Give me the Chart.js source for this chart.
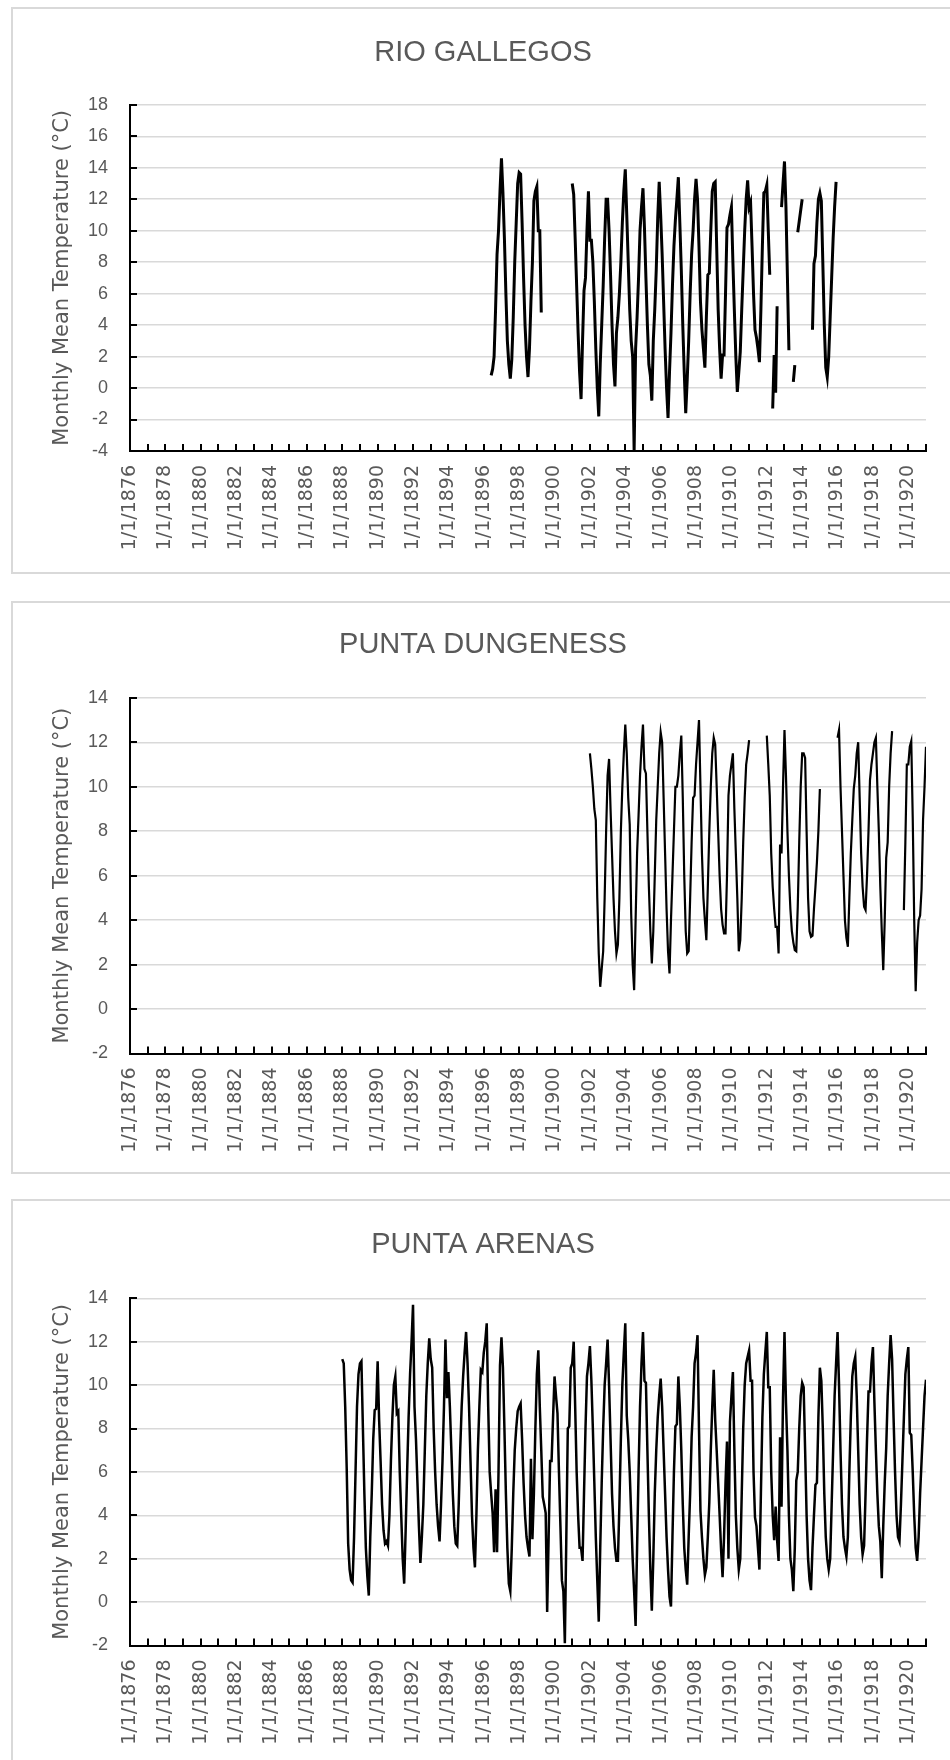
<!DOCTYPE html>
<html>
<head>
<meta charset="utf-8">
<script src="https://cdn.jsdelivr.net/npm/chart.js@4.4.0/dist/chart.umd.min.js"></script>
<style>
  html, body { margin: 0; padding: 0; background: #fff; width: 950px; height: 1760px; overflow: hidden; }
  .panel { position: absolute; left: 11px; width: 960px; border: 2px solid #d9d9d9; box-sizing: border-box; }
  canvas { position: absolute; left: 0; }
</style>
</head>
<body>
<div class="panel" style="top:7px;height:567px"></div>
<div class="panel" style="top:601px;height:573px"></div>
<div class="panel" style="top:1199px;height:600px"></div>
<canvas id="rg" width="950" height="573" style="top:0"></canvas>
<canvas id="pd" width="950" height="571" style="top:602px"></canvas>
<canvas id="pa" width="950" height="560" style="top:1200px"></canvas>
<script>
// Monthly mean temperature (°C), one row per year, Jan..Dec, null = missing month

const rgStart = 1896;
const rgTemps = [
  null, null, null, null, null, 0.8, 1.2, 2.0, 5.0, 8.5, 10.0, 12.5,   // 1896
  14.6, 12.4, 9.5, 6.0, 3.0, 1.5, 0.6, 1.8, 4.5, 8.0, 10.5, 13.0,      // 1897
  13.7, 13.6, 10.5, 7.0, 4.0, 2.0, 0.7, 2.5, 5.5, 8.0, 11.9, 12.5,     // 1898
  12.8, 10.0, 10.0, 4.8, null, null, null, null, null, null, null, null, // 1899
  null, null, null, null, null, null, null, null, null, null, null, null, // 1900
  13.0, 12.3, 9.5, 6.5, 3.5, 1.0, -0.7, 3.0, 6.2, 7.0, 10.0, 12.5,     // 1901
  9.4, 9.4, 8.0, 5.5, 2.5, 0.0, -1.8, 1.5, 4.0, 6.5, 9.5, 12.0,        // 1902
  12.0, 10.0, 7.2, 4.0, 1.5, 0.1, 3.5, 4.5, 6.0, 8.0, 10.5, 12.5,      // 1903
  13.9, 11.0, 8.0, 5.0, 3.0, 2.0, -4.0, 2.5, 4.5, 7.0, 10.0, 11.5,     // 1904
  12.7, 10.2, 7.0, 4.0, 1.5, 0.8, -0.8, 3.0, 5.0, 7.5, 10.8, 13.1,     // 1905
  11.0, 8.5, 5.5, 2.5, 0.0, -1.9, 1.0, 3.5, 6.5, 9.0, 10.7, 12.0,      // 1906
  13.4, 10.5, 7.5, 4.0, 1.0, -1.6, 0.5, 3.0, 6.0, 8.5, 10.0, 12.0,     // 1907
  13.3, 12.0, 9.0, 5.5, 3.7, 2.5, 1.3, 4.5, 7.2, 7.3, 10.0, 12.5,      // 1908
  13.0, 13.1, 9.0, 5.0, 2.5, 0.6, 2.1, 2.1, 6.0, 10.2, 10.4, 11.0,     // 1909
  11.5, 8.0, 4.9, 2.0, -0.25, 1.0, 2.3, 5.0, 7.5, 10.0, 12.0, 13.2,    // 1910
  11.5, 11.8, 9.0, 6.0, 3.7, 3.2, 2.5, 1.65, 5.0, 9.0, 12.4, 12.5,     // 1911
  12.9, 10.0, 7.2, null, -1.3, 2.1, -0.3, 5.2, null, null, 11.5, 13.0, // 1912
  14.4, 11.5, 7.0, 2.4, null, null, 0.4, 1.45, null, 9.9, 10.6, 11.3,  // 1913
  12.0, null, null, null, null, null, null, 3.7, 7.9, 8.4, 10.5, 12.0, // 1914
  12.4, 11.9, 8.0, 4.0, 1.3, 0.7, 2.0, 4.5, 7.0, 9.5, 11.5, 13.1       // 1915
];

const pdStart = 1902;
const pdTemps = [
  11.5, 10.8, 10.0, 9.0, 8.5, 5.0, 2.5, 1.0, 1.8, 2.6, 5.0, 8.0,       // 1902
  10.5, 11.25, 9.0, 7.0, 5.0, 3.5, 2.5, 2.9, 5.0, 8.0, 10.0, 11.5,     // 1903
  12.8, 11.5, 9.5, 8.3, 4.3, 2.0, 0.85, 4.0, 7.0, 8.7, 10.5, 11.8,     // 1904
  12.8, 10.8, 10.6, 8.0, 5.5, 3.5, 2.05, 3.5, 6.0, 8.5, 10.0, 11.5,    // 1905
  12.45, 12.0, 9.5, 7.0, 4.5, 2.6, 1.6, 4.0, 6.0, 8.0, 10.0, 10.0,     // 1906
  10.5, 11.5, 12.3, 9.5, 6.0, 3.5, 2.5, 2.6, 5.0, 7.5, 9.5, 9.6,       // 1907
  11.0, 12.0, 13.0, 10.0, 7.0, 5.0, 4.0, 3.1, 5.5, 8.0, 10.0, 11.5,    // 1908
  12.2, 11.9, 10.0, 8.0, 6.0, 4.5, 3.8, 3.4, 3.4, 6.0, 9.6, 10.5,      // 1909
  11.0, 11.5, 9.0, 7.0, 5.0, 2.6, 3.1, 5.0, 7.5, 9.5, 11.0, 11.5,      // 1910
  12.1, null, null, null, null, null, null, null, null, null, null, null, // 1911
  12.3, 11.0, 9.6, 7.0, 5.5, 4.5, 3.7, 3.7, 2.5, 7.4, 7.0, 10.0,       // 1912
  12.55, 10.5, 8.0, 6.0, 4.5, 3.5, 3.0, 2.65, 2.6, 4.6, 7.5, 10.0,     // 1913
  11.5, 11.5, 11.3, 8.0, 5.0, 3.5, 3.25, 3.3, 4.5, 5.5, 6.6, 8.0,      // 1914
  9.9, null, null, null, null, null, null, null, null, null, null, null, // 1915
  12.2, 12.55, 10.0, 8.0, 6.0, 4.0, 3.2, 2.8, 5.0, 7.0, 8.5, 9.9,      // 1916
  10.5, 11.5, 12.0, 9.5, 7.0, 5.5, 4.6, 4.45, 6.0, 8.0, 10.3, 11.0,    // 1917
  11.5, 12.0, 12.2, 10.0, 8.0, 5.5, 3.5, 1.75, 4.0, 6.8, 7.5, 10.0,    // 1918
  11.5, 12.5, null, null, null, null, null, null, null, 4.45, 7.5, 11.0, // 1919
  11.0, 11.8, 12.05, 8.6, 4.0, 0.8, 3.0, 4.0, 4.2, 5.4, 8.5, 10.0,     // 1920
  11.8                                                                 // 1921
];

const paStart = 1888;
const paTemps = [
  11.2, 11.0, 9.0, 6.2, 2.7, 1.5, 1.0, 0.9, 3.0, 6.0, 9.0, 10.5,       // 1888
  11.0, 11.1, 8.0, 5.0, 2.5, 1.2, 0.3, 3.0, 5.0, 7.5, 8.85, 8.9,       // 1889
  11.1, 8.4, 6.5, 4.5, 3.3, 2.7, 2.8, 2.6, 4.0, 6.5, 8.5, 10.0,        // 1890
  10.4, 8.7, 8.8, 6.0, 4.0, 2.0, 0.85, 3.3, 6.0, 8.5, 10.5, 12.0,      // 1891
  13.7, 9.0, 7.5, 5.5, 3.5, 1.8, 3.0, 4.5, 7.0, 9.5, 11.0, 12.15,      // 1892
  11.2, 10.8, 8.0, 6.0, 4.5, 3.5, 2.8, 4.5, 6.5, 9.0, 12.1, 9.4,       // 1893
  10.6, 9.0, 7.0, 5.0, 3.5, 2.7, 2.6, 4.5, 7.0, 9.0, 10.4, 11.5,       // 1894
  12.45, 11.0, 9.0, 6.5, 4.0, 2.5, 1.6, 4.0, 7.0, 9.0, 10.7, 10.6,     // 1895
  11.5, 12.0, 12.85, 9.0, 6.0, 5.0, 4.1, 2.3, 5.2, 2.3, 6.0, 10.9,     // 1896
  12.2, 10.8, 8.0, 5.0, 2.5, 0.85, 0.5, 2.5, 5.0, 7.0, 8.0, 8.8,       // 1897
  9.0, 9.15, 7.5, 5.5, 4.0, 3.0, 2.5, 2.1, 6.6, 2.9, 5.0, 8.0,         // 1898
  10.5, 11.6, 9.0, 7.0, 4.85, 4.5, 4.1, -0.45, 3.0, 6.5, 6.5, 8.5,     // 1899
  10.4, 9.5, 8.7, 6.0, 3.5, 1.0, 0.5, -1.9, 3.0, 8.0, 8.1, 10.8,       // 1900
  11.0, 12.0, 9.0, 6.0, 4.0, 2.5, 2.5, 1.9, 5.0, 8.0, 10.4, 11.0,      // 1901
  11.8, 10.2, 8.0, 5.5, 3.0, 1.0, -0.9, 2.5, 5.5, 8.0, 10.0, 11.0,     // 1902
  12.1, 10.0, 7.5, 5.0, 3.5, 2.5, 1.9, 1.9, 4.5, 7.5, 10.0, 11.5,      // 1903
  12.85, 8.6, 7.5, 6.0, 4.0, 2.0, 0.5, -1.1, 2.5, 6.0, 9.0, 11.0,      // 1904
  12.45, 10.2, 10.1, 7.0, 4.0, 1.5, -0.4, 2.0, 5.0, 7.0, 8.5, 9.5,     // 1905
  10.3, 9.0, 7.0, 5.0, 3.0, 1.5, 0.25, -0.2, 3.0, 6.0, 8.1, 8.2,       // 1906
  10.4, 9.0, 7.0, 4.5, 2.5, 1.5, 0.8, 3.0, 5.0, 7.6, 9.0, 11.0,        // 1907
  11.5, 12.3, 8.0, 4.2, 3.0, 2.0, 1.25, 1.6, 3.0, 4.6, 7.0, 9.0,       // 1908
  10.7, 8.4, 7.0, 5.5, 4.0, 2.4, 1.15, 3.0, 5.5, 7.4, 2.0, 8.3,        // 1909
  9.5, 10.6, 7.0, 4.0, 2.5, 1.5, 2.0, 5.0, 8.0, 10.0, 11.0, 11.3,      // 1910
  11.6, 10.2, 10.2, 6.0, 3.9, 3.5, 2.5, 1.5, 5.0, 8.5, 10.5, 11.5,     // 1911
  12.45, 9.9, 9.9, 6.0, 4.0, 2.85, 4.4, 2.85, 1.9, 7.6, 4.4, 9.4,      // 1912
  12.45, 9.2, 7.0, 4.0, 2.0, 1.5, 0.5, 2.5, 5.6, 6.0, 8.0, 9.5,        // 1913
  10.1, 9.9, 7.0, 4.0, 2.0, 1.0, 0.55, 2.5, 4.0, 5.4, 5.5, 8.5,        // 1914
  10.8, 10.2, 8.0, 5.0, 3.0, 2.0, 1.5, 2.0, 4.5, 7.0, 9.5, 11.0,       // 1915
  12.45, 10.0, 7.0, 4.5, 3.0, 2.5, 2.1, 3.0, 6.0, 8.5, 10.4, 11.0,     // 1916
  11.3, 9.5, 7.0, 4.5, 3.0, 2.2, 2.6, 5.0, 7.5, 9.7, 9.7, 11.0,        // 1917
  11.75, 9.2, 7.0, 5.0, 3.5, 2.8, 1.1, 3.5, 5.5, 7.1, 9.5, 11.0,       // 1918
  12.3, 11.2, 8.5, 6.0, 4.0, 3.0, 2.8, 4.5, 6.5, 8.5, 10.5, 11.2,      // 1919
  11.75, 7.8, 7.7, 6.0, 4.0, 2.5, 1.9, 3.0, 5.0, 6.5, 8.0, 9.5,        // 1920
  10.25                                                                // 1921
];

// axis extents
const yearMin = 1876;
const yearMax = 1921;
const rgRange = [-4, 18];
const pdRange = [-2, 14];
const paRange = [-2, 14];
const yTitle = 'Monthly Mean Temperature (°C)';

const grey = '#595959';

// short tick marks drawn inside the plot, like the Excel original
const innerTicks = {
  id: 'innerTicks',
  afterDraw(chart) {
    const { ctx, chartArea: a, scales: { x, y } } = chart;
    ctx.save();
    ctx.strokeStyle = '#000';
    ctx.lineWidth = 2;
    ctx.beginPath();
    x.ticks.forEach((t, i) => {
      const px = Math.round(x.getPixelForTick(i));
      ctx.moveTo(px, a.bottom);
      ctx.lineTo(px, a.bottom - 7);
    });
    y.ticks.forEach((t, i) => {
      const py = Math.round(y.getPixelForTick(i));
      ctx.moveTo(a.left, py);
      ctx.lineTo(a.left + 7, py);
    });
    ctx.stroke();
    ctx.restore();
  }
};

function drawStation(id, name, start, temps, range, lineW, titlePad, xHeight) {
  const points = temps.map((t, i) => ({ x: start + i / 12, y: t }));
  new Chart(document.getElementById(id), {
    type: 'line',
    data: {
      datasets: [{
        data: points,
        borderColor: '#000',
        borderWidth: lineW,
        pointRadius: 0,
        tension: 0,
        spanGaps: false,
        fill: false
      }]
    },
    options: {
      responsive: false,
      animation: false,
      layout: { padding: { left: 40, right: 24, top: 0, bottom: 0 } },
      plugins: {
        legend: { display: false },
        tooltip: { enabled: false },
        title: {
          display: true,
          text: name,
          color: grey,
          font: { family: 'Liberation Sans', size: 29, weight: 'normal' },
          padding: titlePad
        }
      },
      scales: {
        x: {
          type: 'linear',
          min: yearMin,
          max: yearMax,
          grid: { drawOnChartArea: false, drawTicks: false },
          border: { color: '#000', width: 2 },
          ticks: {
            stepSize: 1,
            maxTicksLimit: 100,
            autoSkip: false,
            minRotation: 90,
            maxRotation: 90,
            padding: 14,
            color: grey,
            font: { family: 'DejaVu Sans', size: 19 },
            callback: v => (v % 2 === 0 ? '1/1/' + v : '')
          },
          afterFit: s => {
            s.height = xHeight;
            s.paddingLeft = 0;
            s.paddingRight = 0;
          }
        },
        y: {
          min: range[0],
          max: range[1],
          grid: { color: '#d9d9d9', lineWidth: 1.5, drawTicks: false },
          border: { color: '#000', width: 2 },
          ticks: {
            stepSize: 2,
            padding: 22,
            color: grey,
            font: { family: 'Liberation Sans', size: 18 }
          },
          title: {
            display: true,
            text: yTitle,
            color: grey,
            font: { family: 'DejaVu Sans', size: 21 },
            padding: { top: 10, bottom: 0 }
          },
          afterFit: s => { s.width = 90; }
        }
      }
    },
    plugins: [innerTicks]
  });
}

drawStation('rg', 'RIO GALLEGOS', rgStart, rgTemps, rgRange, 3, { top: 36, bottom: 34 }, 122);
drawStation('pd', 'PUNTA DUNGENESS', pdStart, pdTemps, pdRange, 2.2, { top: 26, bottom: 35 }, 119.5);
drawStation('pa', 'PUNTA ARENAS', paStart, paTemps, paRange, 2.5, { top: 28, bottom: 35.5 }, 114.5);
</script>
</body>
</html>
